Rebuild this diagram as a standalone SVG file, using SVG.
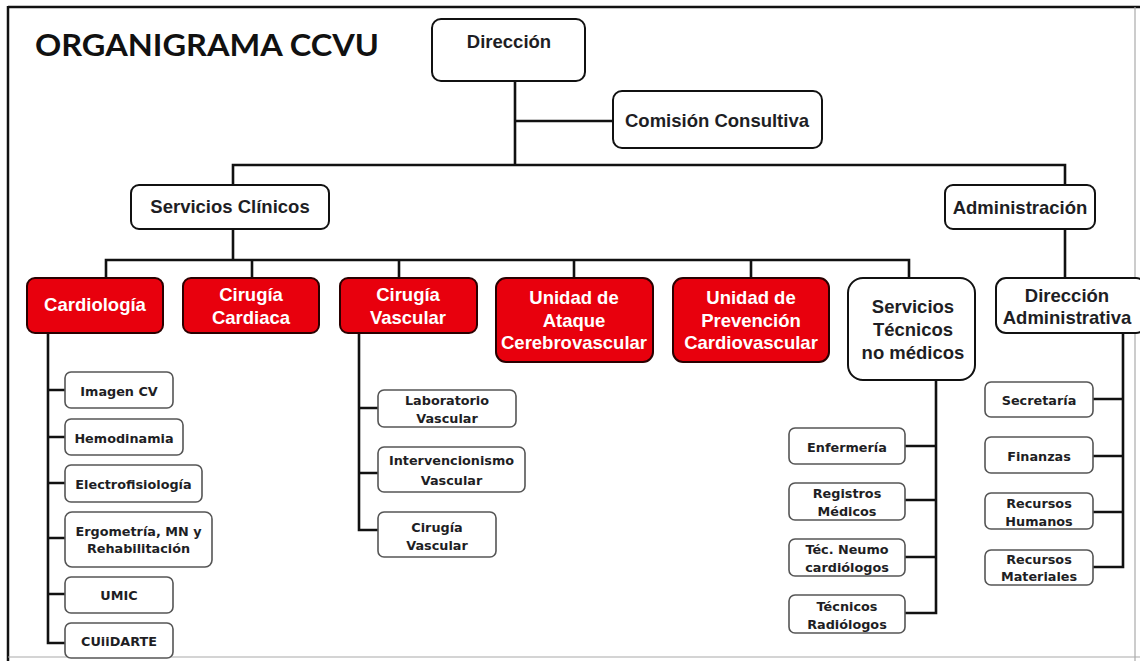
<svg xmlns="http://www.w3.org/2000/svg" width="1140" height="661" viewBox="0 0 1140 661">
<style>
.bg{fill:#ffffff}
.main{fill:#ffffff;stroke:#111111;stroke-width:2}
.red{fill:#e8000d;stroke:#2a0000;stroke-width:2}
.small{fill:#ffffff;stroke:#555555;stroke-width:1.6}
.t{font-family:"Liberation Sans",Arial,sans-serif;font-weight:bold;font-size:18.5px;fill:#1e1e24;text-anchor:middle}
.tw{font-family:"Liberation Sans",Arial,sans-serif;font-weight:bold;font-size:18.5px;fill:#ffffff;text-anchor:middle}
.ts{font-family:"DejaVu Sans",Verdana,sans-serif;font-weight:bold;font-size:12.8px;fill:#1e1e24;text-anchor:middle}
.title{font-family:Lato,"Open Sans",sans-serif;font-weight:bold;font-size:31px;fill:#111111}
.c{fill:none;stroke:#111111;stroke-width:2.6;stroke-linejoin:miter}
</style>
<rect class="bg" x="0" y="0" width="1140" height="661"/>
<g id="frame">
<line x1="8" y1="7" x2="1140" y2="7" stroke="#111" stroke-width="2.5"/>
<line x1="8" y1="6" x2="8" y2="661" stroke="#111" stroke-width="2.5"/>
<line x1="1135" y1="7" x2="1135" y2="661" stroke="#aaaaaa" stroke-width="1.2"/>
<line x1="8" y1="657" x2="1140" y2="657" stroke="#aaaaaa" stroke-width="1.2"/>
</g>
<text class="title" x="35" y="56" textLength="344" lengthAdjust="spacingAndGlyphs">ORGANIGRAMA CCVU</text>
<g id="connectors">
<path class="c" d="M515 81 V165"/>
<path class="c" d="M515 121 H613"/>
<path class="c" d="M233 185 V165 H1065 V186"/>
<path class="c" d="M233 229 V260"/>
<path class="c" d="M106 278 V260 H909 V278"/>
<path class="c" d="M252 260 V278"/>
<path class="c" d="M399 260 V278"/>
<path class="c" d="M574 260 V278"/>
<path class="c" d="M751 260 V278"/>
<path class="c" d="M1065 229 V278"/>
<path class="c" d="M48 334 V643 H65"/>
<path class="c" d="M48 390 H65 M48 437 H65 M48 483 H65 M48 538 H65 M48 594 H65"/>
<path class="c" d="M359 333 V530 H378"/>
<path class="c" d="M359 408 H378 M359 473 H378"/>
<path class="c" d="M936 380 V613 H905"/>
<path class="c" d="M936 446 H905 M936 500 H905 M936 557 H905"/>
<path class="c" d="M1123 333 V567 H1093"/>
<path class="c" d="M1123 399 H1093 M1123 456 H1093 M1123 512 H1093"/>
</g>
<g id="n-direccion">
<rect class="main" x="432" y="19" width="153" height="62" rx="9"/>
<text class="t" x="509" y="48">Dirección</text>
</g>
<g id="n-comision">
<rect class="main" x="613" y="91" width="209" height="57" rx="9"/>
<text class="t" x="717" y="127">Comisión Consultiva</text>
</g>
<g id="n-servicios-clinicos">
<rect class="main" x="131" y="185" width="198" height="44" rx="8"/>
<text class="t" x="230" y="213">Servicios Clínicos</text>
</g>
<g id="n-administracion">
<rect class="main" x="945" y="185" width="150" height="44" rx="8"/>
<text class="t" x="1020" y="214">Administración</text>
</g>
<g id="n-cardiologia">
<rect class="red" x="27" y="278" width="136" height="55" rx="8"/>
<text class="tw" x="95" y="311">Cardiología</text>
</g>
<g id="n-cirugia-cardiaca">
<rect class="red" x="183" y="278" width="136" height="55" rx="8"/>
<text class="tw" x="251" y="301">Cirugía</text>
<text class="tw" x="251" y="324">Cardiaca</text>
</g>
<g id="n-cirugia-vascular">
<rect class="red" x="340" y="278" width="137" height="55" rx="8"/>
<text class="tw" x="408" y="301">Cirugía</text>
<text class="tw" x="408" y="324">Vascular</text>
</g>
<g id="n-ataque">
<rect class="red" x="496" y="278" width="157" height="84" rx="10"/>
<text class="tw" x="574" y="304">Unidad de</text>
<text class="tw" x="574" y="327">Ataque</text>
<text class="tw" x="574" y="349">Cerebrovascular</text>
</g>
<g id="n-prevencion">
<rect class="red" x="673" y="278" width="156" height="84" rx="10"/>
<text class="tw" x="751" y="304">Unidad de</text>
<text class="tw" x="751" y="327">Prevención</text>
<text class="tw" x="751" y="349">Cardiovascular</text>
</g>
<g id="n-servicios-tecnicos">
<rect class="main" x="848" y="278" width="127" height="102" rx="15"/>
<text class="t" x="913" y="313">Servicios</text>
<text class="t" x="913" y="336">Técnicos</text>
<text class="t" x="913" y="359">no médicos</text>
</g>
<g id="n-direccion-administrativa">
<rect class="main" x="996" y="278" width="150" height="55" rx="10"/>
<text class="t" x="1067" y="302">Dirección</text>
<text class="t" x="1067" y="324">Administrativa</text>
</g>
<g id="n-imagen-cv">
<rect class="small" x="65" y="372" width="108" height="36" rx="6"/>
<text class="ts" x="119" y="396">Imagen CV</text>
</g>
<g id="n-hemodinamia">
<rect class="small" x="65" y="419" width="118" height="36" rx="6"/>
<text class="ts" x="124" y="443">Hemodinamia</text>
</g>
<g id="n-electrofisiologia">
<rect class="small" x="65" y="465" width="137" height="37" rx="6"/>
<text class="ts" x="133.5" y="489">Electrofisiología</text>
</g>
<g id="n-ergometria">
<rect class="small" x="65" y="512" width="147" height="55" rx="7"/>
<text class="ts" x="138.5" y="536">Ergometría, MN y</text>
<text class="ts" x="138.5" y="553">Rehabilitación</text>
</g>
<g id="n-umic">
<rect class="small" x="65" y="577" width="108" height="36" rx="6"/>
<text class="ts" x="119" y="600">UMIC</text>
</g>
<g id="n-cuiidarte">
<rect class="small" x="65" y="623" width="108" height="35" rx="6"/>
<text class="ts" x="119" y="646">CUiiDARTE</text>
</g>
<g id="n-laboratorio">
<rect class="small" x="378" y="390" width="138" height="37" rx="6"/>
<text class="ts" x="447" y="405">Laboratorio</text>
<text class="ts" x="447" y="423">Vascular</text>
</g>
<g id="n-intervencionismo">
<rect class="small" x="378" y="447" width="147" height="45" rx="6"/>
<text class="ts" x="451.5" y="465">Intervencionismo</text>
<text class="ts" x="451.5" y="485">Vascular</text>
</g>
<g id="n-cirugia-vascular-2">
<rect class="small" x="378" y="512" width="118" height="45" rx="6"/>
<text class="ts" x="437" y="532">Cirugía</text>
<text class="ts" x="437" y="550">Vascular</text>
</g>
<g id="n-enfermeria">
<rect class="small" x="789" y="428" width="116" height="36" rx="6"/>
<text class="ts" x="847" y="452">Enfermería</text>
</g>
<g id="n-registros">
<rect class="small" x="789" y="483" width="116" height="37" rx="6"/>
<text class="ts" x="847" y="498">Registros</text>
<text class="ts" x="847" y="516">Médicos</text>
</g>
<g id="n-neumo">
<rect class="small" x="789" y="539" width="116" height="37" rx="6"/>
<text class="ts" x="847" y="554">Téc. Neumo</text>
<text class="ts" x="847" y="572">cardiólogos</text>
</g>
<g id="n-radiologos">
<rect class="small" x="789" y="595" width="116" height="38" rx="6"/>
<text class="ts" x="847" y="611">Técnicos</text>
<text class="ts" x="847" y="629">Radiólogos</text>
</g>
<g id="n-secretaria">
<rect class="small" x="985" y="382" width="108" height="35" rx="6"/>
<text class="ts" x="1039" y="405">Secretaría</text>
</g>
<g id="n-finanzas">
<rect class="small" x="985" y="437" width="108" height="36" rx="6"/>
<text class="ts" x="1039" y="461">Finanzas</text>
</g>
<g id="n-rrhh">
<rect class="small" x="985" y="493" width="108" height="36" rx="6"/>
<text class="ts" x="1039" y="508">Recursos</text>
<text class="ts" x="1039" y="526">Humanos</text>
</g>
<g id="n-rrmm">
<rect class="small" x="985" y="550" width="108" height="35" rx="6"/>
<text class="ts" x="1039" y="564">Recursos</text>
<text class="ts" x="1039" y="581">Materiales</text>
</g>
</svg>
